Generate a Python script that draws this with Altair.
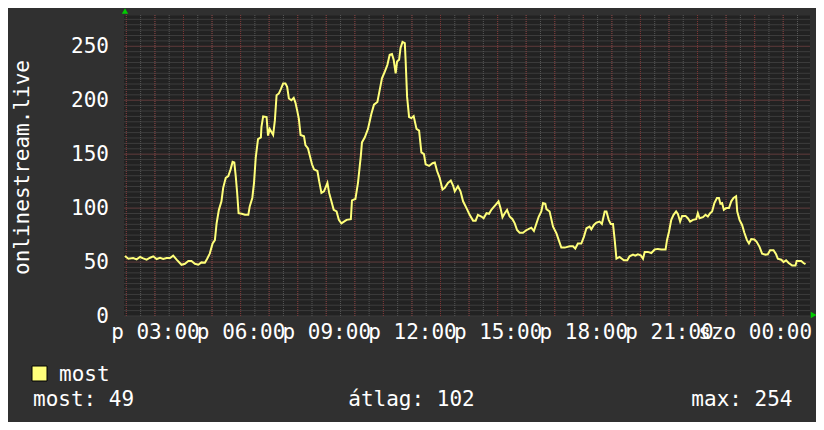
import altair as alt
import pandas as pd

# time in hours since Friday 00:00, viewers
hours = [1.95, 2.07, 2.24, 2.36, 2.48, 2.59, 2.71, 2.83, 2.94, 3.06, 3.18, 3.29, 3.41, 3.53, 3.64, 3.76,
         3.93, 4.05, 4.17, 4.28, 4.40, 4.52, 4.63, 4.75, 4.83, 4.92, 5.02, 5.10, 5.16, 5.24, 5.33, 5.39,
         5.48, 5.57, 5.65, 5.72, 5.78, 5.83, 5.88, 5.93, 6.04, 6.15, 6.27, 6.32, 6.41, 6.47, 6.53, 6.61,
         6.71, 6.73, 6.79, 6.91, 6.96, 7.02, 7.14, 7.20, 7.26, 7.34, 7.41, 7.49, 7.57, 7.63, 7.69, 7.78,
         7.86, 7.92, 7.98, 8.04, 8.10, 8.22, 8.27, 8.36, 8.42, 8.50, 8.57, 8.69, 8.75, 8.83, 8.92, 9.04,
         9.10, 9.18, 9.26, 9.36, 9.44, 9.53, 9.62, 9.71, 9.86, 9.90, 10.02, 10.11, 10.21, 10.25, 10.35,
         10.46, 10.58, 10.67, 10.79, 10.87, 10.95, 11.05, 11.14, 11.22, 11.30, 11.36, 11.43, 11.48, 11.55,
         11.60, 11.67, 11.75, 11.78, 11.83, 11.90, 11.98, 12.06, 12.16, 12.25, 12.33, 12.42, 12.48, 12.60,
         12.72, 12.80, 12.88, 12.97, 13.07, 13.15, 13.26, 13.36, 13.44, 13.50, 13.61, 13.70, 13.79, 13.91,
         14.02, 14.14, 14.23, 14.31, 14.43, 14.51, 14.61, 14.70, 14.78, 14.86, 14.93, 15.03, 15.10, 15.17,
         15.25, 15.33, 15.42, 15.52, 15.60, 15.68, 15.77, 15.89, 16.01, 16.06, 16.18, 16.27, 16.36, 16.44,
         16.53, 16.59, 16.67, 16.71, 16.82, 16.94, 17.06, 17.14, 17.23, 17.35, 17.52, 17.64, 17.72, 17.81,
         17.93, 18.02, 18.11, 18.22, 18.28, 18.37, 18.46, 18.57, 18.65, 18.75, 18.81, 18.89, 18.96, 19.04,
         19.10, 19.16, 19.27, 19.35, 19.42, 19.54, 19.62, 19.74, 19.82, 19.91, 20.01, 20.09, 20.15, 20.26,
         20.38, 20.50, 20.61, 20.73, 20.88, 20.93, 21.00, 21.08, 21.16, 21.25, 21.31, 21.39, 21.46, 21.58,
         21.66, 21.74, 21.84, 21.95, 22.01, 22.07, 22.19, 22.28, 22.36, 22.44, 22.51, 22.59, 22.68, 22.75,
         22.80, 22.86, 22.92, 23.00, 23.10, 23.18, 23.26, 23.35, 23.39, 23.47, 23.56, 23.64, 23.73, 23.80,
         23.88, 23.99, 24.07, 24.17, 24.26, 24.38, 24.46, 24.54, 24.66, 24.75, 24.81, 24.93, 25.01, 25.10,
         25.19, 25.31, 25.43, 25.47, 25.63, 25.71, 25.78]

viewers = [55.6, 53.1, 53.8, 52.5, 54.7, 53.4, 52.2, 54.0, 55.3, 52.8, 54.0, 52.8, 53.8, 53.8, 55.9, 52.2,
           47.5, 48.4, 50.9, 50.9, 48.4, 47.5, 49.7, 49.4, 53.1, 57.8, 67.2, 70.3, 85.9, 98.4, 106.3, 118.8,
           128.1, 129.7, 135.9, 142.8, 142.2, 129.7, 114.0, 95.3, 94.7, 93.8, 93.8, 101.6, 109.4, 123.4, 146.9, 164.0,
           165.6, 175.0, 185.0, 184.4, 167.2, 173.4, 167.8, 181.3, 204.7, 206.3, 210.3, 215.6, 215.6, 212.5, 201.6, 200.0,
           202.2, 197.8, 190.6, 182.8, 167.8, 166.6, 158.4, 155.3, 149.1, 140.6, 135.9, 134.4, 125.0, 114.1, 115.6, 123.4,
           114.1, 106.3, 98.4, 96.9, 89.1, 85.9, 87.5, 89.1, 89.7, 107.2, 108.4, 123.4, 148.4, 160.9, 165.6,
           173.4, 187.5, 195.9, 198.4, 209.4, 220.3, 226.6, 232.8, 242.2, 242.8, 237.5, 225.0, 235.9, 237.5,
           248.4, 254.0, 253.0, 235.9, 203.1, 184.4, 183.4, 185.3, 173.4, 171.9, 151.6, 150.0, 140.6, 139.1,
           141.6, 142.2, 134.4, 128.1, 117.2, 118.8, 123.4, 125.6, 120.9, 115.6, 120.3, 115.6, 106.3, 100.0,
           93.8, 88.4, 88.4, 93.8, 92.2, 90.6, 95.3, 94.7, 98.4, 100.9, 103.1, 106.3, 100.0, 91.6,
           95.3, 98.4, 92.2, 89.7, 85.9, 79.7, 77.2, 77.2, 79.7, 80.3, 81.9, 78.8, 85.9, 92.2,
           96.9, 104.7, 104.1, 99.1, 96.9, 82.8, 76.6, 70.3, 63.4, 63.4, 64.7, 64.7, 62.5, 67.2,
           67.2, 73.4, 81.3, 82.8, 80.3, 84.4, 86.6, 87.5, 85.3, 96.9, 96.9, 89.1, 85.3, 85.3,
           70.3, 53.1, 54.7, 53.1, 51.6, 51.6, 55.3, 56.9, 55.9, 57.2, 56.3, 53.1, 59.4, 59.4,
           58.4, 61.6, 62.2, 61.6, 61.6, 70.3, 78.1, 89.1, 93.8, 96.9, 94.7, 87.5, 92.8, 92.8,
           90.6, 87.5, 89.1, 89.7, 95.3, 90.6, 91.6, 93.8, 92.2, 95.3, 96.9, 104.7, 109.4, 109.4,
           104.1, 104.7, 98.4, 100.0, 100.0, 106.3, 109.4, 110.9, 96.9, 89.1, 84.4, 77.2, 70.3, 67.2,
           71.3, 70.9, 68.8, 64.1, 57.8, 56.9, 57.2, 60.9, 60.9, 57.2, 53.1, 52.2, 50.0, 51.6,
           49.1, 46.9, 46.9, 50.9, 50.9, 49.1, 48.0]

x_tick_values = [3, 6, 9, 12, 15, 18, 21, 24]
x_tick_labels = ["p 03:00", "p 06:00", "p 09:00", "p 12:00", "p 15:00", "p 18:00", "p 21:00", "szo 00:00"]
y_tick_values = [0, 50, 100, 150, 200, 250]

x_minor = [2.0 + 0.5 * i for i in range(48)]
x_major = [2 + i for i in range(24)]
y_minor = [5 * i for i in range(56)]
y_major = [50, 100, 150, 200, 250]

y_title = "onlinestream.live"
series_name = "most"
stats_left = "most: 49"
stats_mid = "átlag: 102"
stats_right = "max: 254"

FONT = "DejaVu Sans Mono"
FS = 21
LINE_COLOR = "#ffff7a"
MINOR = "#575757"
MAJOR = "#7e3434"

W, H = 686, 301
xs = alt.Scale(domain=[1.9, 25.92], nice=False, zero=False)
ys = alt.Scale(domain=[0, 279], nice=False, zero=False)

label_arr = "[" + ",".join("'" + s + "'" for s in x_tick_labels) + "]"
value_arr = "[" + ",".join(str(v) for v in x_tick_values) + "]"

x_axis = alt.Axis(
    values=x_tick_values, labelExpr=label_arr + "[indexof(" + value_arr + ", datum.value)]",
    grid=False, domain=False, ticks=False, tickSize=0, labelOverlap=False, labelFlush=False,
    labelBound=False, labelBaseline="alphabetic", labelPadding=22, labelColor="#ffffff",
    labelFont=FONT, labelFontSize=FS, title=None)
y_axis = alt.Axis(
    values=y_tick_values, grid=False, domain=False, ticks=False, tickSize=0,
    labelOverlap=False, labelFlush=False, labelBound=False, labelPadding=15,
    labelColor="#ffffff", labelFont=FONT, labelFontSize=FS,
    title=y_title, titleAngle=270, titleX=-101, titleY=152, titleAlign="center",
    titleBaseline="middle", titleFont=FONT, titleFontSize=FS, titleFontWeight="normal",
    titleColor="#ffffff")

X = alt.X("t:Q", scale=xs, axis=x_axis)
Y = alt.Y("v:Q", scale=ys, axis=y_axis)

df = pd.DataFrame({"t": hours, "v": viewers})

line = alt.Chart(df).mark_line(color=LINE_COLOR, strokeWidth=2).encode(x=X, y=Y, order="t:Q")

xminor = alt.Chart(pd.DataFrame({"t": x_minor})).mark_rule(
    color=MINOR, strokeWidth=1, strokeDash=[1, 1]).encode(x=X)
yminor = alt.Chart(pd.DataFrame({"v": y_minor})).mark_rule(
    color=MINOR, strokeWidth=1, strokeDash=[1, 1]).encode(y=Y)
xmajor = alt.Chart(pd.DataFrame({"t": x_major})).mark_rule(
    color=MAJOR, strokeWidth=1, strokeDash=[1, 1]).encode(x=X)
ymajor = alt.Chart(pd.DataFrame({"v": y_major})).mark_rule(
    color=MAJOR, strokeWidth=1, strokeDash=[1, 1]).encode(y=Y)

one = pd.DataFrame({"a": [0]})

legend_box = alt.Chart(one).mark_rect(fill=LINE_COLOR, stroke="#000000", strokeWidth=1).encode(
    x=alt.value(-91.5), x2=alt.value(-76.5), y=alt.value(351), y2=alt.value(366))

def txt(s, x, y, align):
    return alt.Chart(pd.DataFrame({"s": [s]})).mark_text(
        font=FONT, fontSize=FS, color="#ffffff", align=align, baseline="alphabetic").encode(
        text="s:N", x=alt.value(x), y=alt.value(y))

t1 = txt(series_name, -64.5, 365.5, "left")
t2 = txt(stats_left, -90.5, 391, "left")
t3 = txt(stats_mid, 288, 391, "center")
t4 = txt(stats_right, 669, 391, "right")

arrow_up = alt.Chart(one).mark_point(shape="triangle-up", filled=True, color="#00cc00", size=40, opacity=1).encode(
    x=alt.value(1.5), y=alt.value(-4))
arrow_right = alt.Chart(one).mark_point(shape="triangle-right", filled=True, color="#00cc00", size=40, opacity=1).encode(
    x=alt.value(690), y=alt.value(300))

chart = alt.layer(
    xminor, yminor, xmajor, ymajor, line, legend_box, t1, t2, t3, t4, arrow_up, arrow_right
).properties(
    width=W, height=H,
    autosize=alt.AutoSizeParams(type="none"),
    padding={"left": 115.5, "top": 7, "right": 6.5, "bottom": 106},
    background="#303030",
).configure(font=FONT).configure_view(fill="#222222", stroke="transparent")

chart.save("out.html", embed_options={"renderer": "svg", "actions": False})
